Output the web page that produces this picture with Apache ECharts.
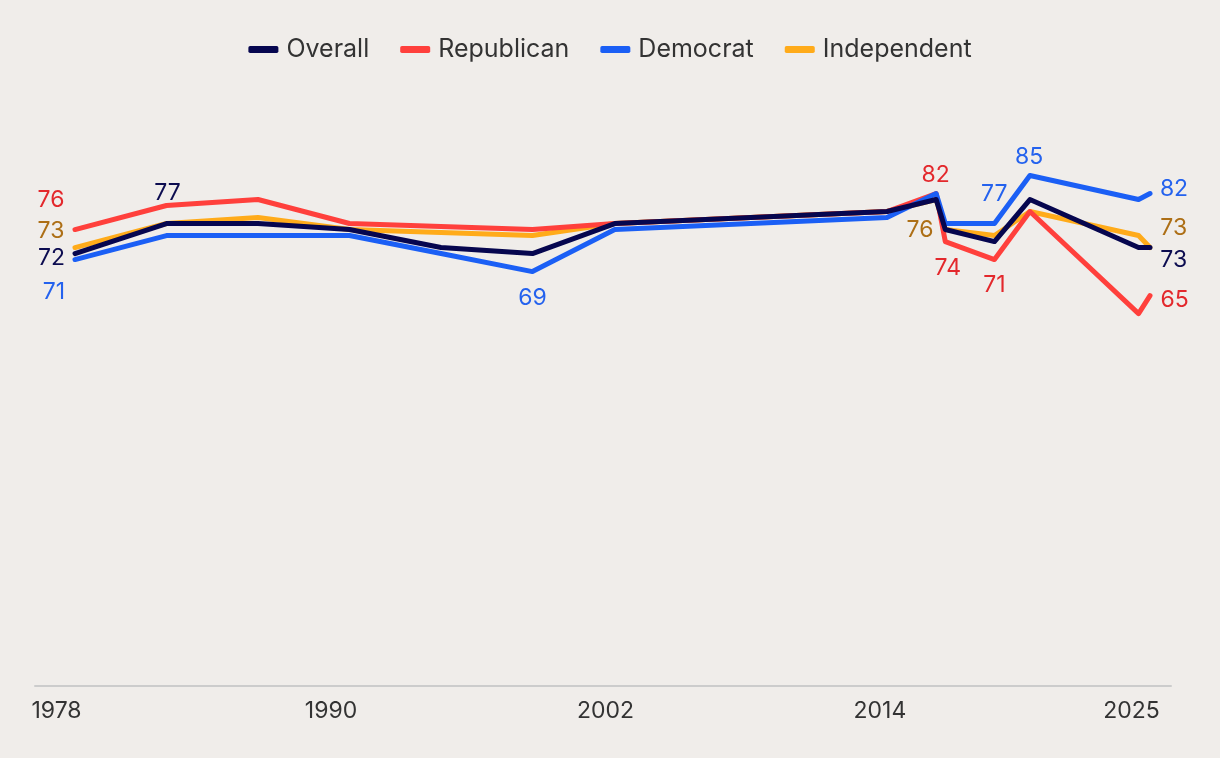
<!DOCTYPE html>
<html>
<head>
<meta charset="utf-8">
<script src="https://cdn.jsdelivr.net/npm/echarts@6/dist/echarts.min.js"></script>
<style>
  html, body { margin: 0; padding: 0; background: #f0edea; }
  #chart { width: 1220px; height: 758px; }
</style>
</head>
<body>
<div id="chart"></div>
<script>
// ---- data ----
const years = [1978, 1982, 1986, 1990, 1994, 1998, 2001.6, 2013.5, 2015.65, 2016.05, 2018.2, 2019.75, 2024.5, 2025];
const overall     = [72, 77, 77, 76, 73,   72, 77, 79, 81, 76, 74, 81, 73, 73];
const republican  = [76, 80, 81, 77, null, 76, 77, 79, 82, 74, 71, 79, 62, 65];
const democrat    = [71, 75, 75, 75, 72,   69, 76, 78, 82, 77, 77, 85, 81, 82];
const independent = [73, 77, 78, 76, null, 75, 77, 79, 81, 76, 75, 79, 75, 73];
const xTickLabels = [1978, 1990, 2002, 2014, 2025];

// ---- styling ----
const seriesDefs = [
  { name: 'Overall',     values: overall,     line: '#06064f', label: '#0c0c50', z: 5,
    labels: { 0: [-23.5, 5], 1: [1, -30.5], 13: [23.7, 12.4] } },
  { name: 'Republican',  values: republican,  line: '#ff403c', label: '#e3282c', z: 3,
    labels: { 0: [-24, -29.5], 8: [-0.5, -18], 9: [2.5, 26.7], 10: [0, 26], 13: [24.5, 4.4] } },
  { name: 'Democrat',    values: democrat,    line: '#1b5ff5', label: '#2462ee', z: 4,
    labels: { 0: [-21, 32.5], 5: [0, 26.5], 10: [-0.3, -29.7], 11: [-0.7, -18.8], 13: [24, -4.5] } },
  { name: 'Independent', values: independent, line: '#ffab1a', label: '#ad6f16', z: 2,
    labels: { 0: [-24, -16], 9: [-25.3, 0.4], 13: [23.7, -19.3] } }
];

const series = seriesDefs.map(d => {
  const data = [];
  years.forEach((yr, i) => {
    const v = d.values[i];
    if (v == null) return;
    const item = { value: [yr, v] };
    if (d.labels[i]) {
      item.label = {
        show: true,
        position: 'inside',
        offset: d.labels[i],
        color: d.label,
        fontSize: 23,
        fontFamily: 'Inter',
        formatter: p => String(p.value[1])
      };
    }
    data.push(item);
  });
  return {
    name: d.name,
    type: 'line',
    z: d.z,
    data: data,
    symbol: 'circle',
    symbolSize: 2,
    showSymbol: true,
    itemStyle: { color: 'rgba(0,0,0,0)' },
    color: d.line,
    lineStyle: { color: d.line, width: 5, cap: 'round', join: 'round' },
    label: { show: false },
    emphasis: { disabled: true },
    silent: true
  };
});

const chart = echarts.init(document.getElementById('chart'), null, { renderer: 'canvas' });
chart.setOption({
  backgroundColor: '#f0edea',
  animation: false,
  textStyle: { fontFamily: 'Inter' },
  legend: {
    data: seriesDefs.map(d => ({ name: d.name, itemStyle: { color: d.line } })),
    left: 'center',
    top: 32,
    icon: 'roundRect',
    itemWidth: 30,
    itemHeight: 7,
    itemGap: 31,
    selectedMode: false,
    textStyle: { fontSize: 25, color: '#333333', fontFamily: 'Inter', padding: [0, 0, 0, 3] }
  },
  grid: { left: 35, right: 49, top: 85.4, bottom: 72, containLabel: false, outerBoundsMode: 'none' },
  xAxis: {
    type: 'value',
    min: 1976.251,
    max: 2025.918,
    axisLine: { show: true, lineStyle: { color: '#cccccc', width: 2 } },
    axisTick: { show: false },
    splitLine: { show: false },
    axisLabel: {
      customValues: xTickLabels,
      fontSize: 23,
      color: '#333333',
      fontFamily: 'Inter',
      margin: 14,
      padding: [0, 37, 0, 0],
      formatter: v => String(v)
    }
  },
  yAxis: { type: 'value', min: 0, max: 100, show: false },
  tooltip: { show: false },
  series: series
});
</script>
</body>
</html>
